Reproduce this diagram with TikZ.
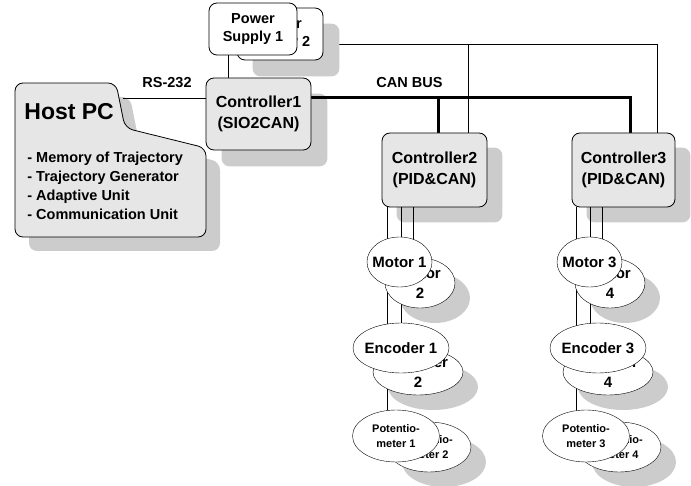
\documentclass[tikz,border=0pt]{standalone}
\usepackage{fontspec}
\setmainfont{Liberation Sans}
\usetikzlibrary{shapes.geometric}
\definecolor{boxfill}{RGB}{230,230,230}
\definecolor{shadowc}{RGB}{204,204,204}
\pgfdeclarelayer{pslayer}
\pgfdeclarelayer{shadowlayer}
\pgfdeclarelayer{linelayer}
\pgfsetlayers{pslayer,shadowlayer,linelayer,main}
\begin{document}
\begin{tikzpicture}[x=1pt,y=-1pt, line width=0.8pt,
  ctrl/.style={draw, fill=boxfill, rounded corners=8pt, align=center, inner sep=0pt, font=\bfseries\fontsize{16}{21}\selectfont},
  psbox/.style={draw, fill=white, rounded corners=8pt, align=center, inner sep=0pt, font=\bfseries\fontsize{14.5}{18}\selectfont},
  ell/.style={draw, fill=white, ellipse, inner sep=0pt},
  elltxt/.style={font=\bfseries\fontsize{15}{20}\selectfont, align=center, inner sep=0pt},
  pottxt/.style={font=\bfseries\fontsize{11}{15}\selectfont, align=center, inner sep=0pt},
  lbl/.style={font=\bfseries\fontsize{14.5}{17}\selectfont, inner sep=0pt},
  bus/.style={line width=3pt},
  shadowfill/.style={fill=shadowc, draw=none}]

\useasboundingbox (0,0) rectangle (691,486);

% Power supplies
\node[psbox, minimum width=86pt, minimum height=52pt] (ps2) at (280,34) {Power\\Supply 2};
\node[psbox, minimum width=88pt, minimum height=52pt] (ps1) at (253,29) {Power\\Supply 1};

% Host PC
\draw[fill=boxfill, rounded corners=8pt] (60,83) -- (116,83) -- (125,128) -- (206,148) -- (206,237) -- (15,237) -- (15,83) -- cycle;
\node[font=\bfseries\fontsize{23}{27}\selectfont, anchor=west, inner sep=0pt] (hosttitle) at (24,111.5) {Host PC};
\node[font=\bfseries\fontsize{14.5}{19}\selectfont, anchor=north west, align=left, inner sep=0pt] (hostlist) at (27,151.5)
  {- Memory of Trajectory\\- Trajectory Generator\\- Adaptive Unit\\- Communication Unit};
\coordinate (hostport) at (123,98);

% Controllers
\node[ctrl, minimum width=105pt, minimum height=72pt] (c1) at (258.5,114) {Controller1\\(SIO2CAN)};
\node[ctrl, minimum width=105pt, minimum height=74pt] (c2) at (434.5,170) {Controller2\\(PID\&CAN)};
\node[ctrl, minimum width=103pt, minimum height=74pt] (c3) at (623.5,170) {Controller3\\(PID\&CAN)};

% Labels
\node[lbl] (rs) at (167,83) {RS-232};
\node[lbl] (can) at (409.5,83) {CAN BUS};

% Shadows
\begin{pgfonlayer}{shadowlayer}
  \fill[shadowc, rounded corners=8pt] ([shift={(16,16)}]ps2.south west) rectangle ([shift={(16,16)}]ps2.north east);
  \fill[shadowc, rounded corners=8pt] ([shift={(16,16)}]c1.south west) rectangle ([shift={(16,16)}]c1.north east);
  \fill[shadowc, rounded corners=8pt] ([shift={(15,15)}]c2.south west) rectangle ([shift={(15,15)}]c2.north east);
  \fill[shadowc, rounded corners=8pt] ([shift={(15,15)}]c3.south west) rectangle ([shift={(15,15)}]c3.north east);
  \fill[shadowc, rounded corners=8pt, shift={(14,14)}] (60,83) -- (116,83) -- (125,128) -- (206,148) -- (206,237) -- (15,237) -- (15,83) -- cycle;
\end{pgfonlayer}

% Power line
\coordinate (psbus) at ([yshift=-10pt]ps2.east);
\begin{pgfonlayer}{pslayer}
  \draw (psbus) -| ([xshift=33.5pt]c3.north);
  \draw ([xshift=33.5pt]c2.north) -- ([xshift=33.5pt]c2.north |- psbus);
\end{pgfonlayer}

% Connectors
\coordinate (canstart) at ([yshift=16pt]c1.east);
\begin{pgfonlayer}{linelayer}
  \draw ([xshift=-25pt]ps1.south) -- ([xshift=-25pt]ps1.south |- c1.north);
  \draw (hostport) -- (hostport -| c1.west);
  \draw[bus] (canstart) -| ([xshift=6.5pt]c3.north);
  \draw[bus] ([xshift=3.5pt]c2.north) -- ([xshift=3.5pt]c2.north |- canstart);
\end{pgfonlayer}

% Device columns
\foreach \dx/\a/\b/\c/\ex in {0/1/2/2/0, 190/3/4/3/7} {
  % motors
  \node[ell, minimum width=70pt, minimum height=50pt] (mot\b) at (420+\dx,283) {};
  \node[elltxt] (motl\b) at (mot\b) {Motor\\\b};
  \node[ell, minimum width=65pt, minimum height=50pt] (mot\a) at (399.5+\dx,262) {};
  \node[elltxt] (motl\a) at (mot\a) {Motor \a};
  % encoders
  \node[ell, minimum width=90pt, minimum height=46pt] (enc\b) at (418+\dx,372) {};
  \node[elltxt] (encl\b) at (enc\b) {Encoder\\\b};
  \node[ell, minimum width=96pt, minimum height=50pt] (enc\a) at (401+\dx+\ex,348) {};
  \node[elltxt] (encl\a) at (enc\a) {Encoder \a};
  % potentiometers
  \node[ell, minimum width=84pt, minimum height=50pt] (pot\b) at (429+\dx,447) {};
  \node[pottxt] (potl\b) at (pot\b) {Potentio-\\meter \b};
  \node[ell, minimum width=87pt, minimum height=52pt] (pot\a) at (396+\dx,436) {};
  \node[pottxt] (potl\a) at (pot\a) {Potentio-\\meter \a};
  \begin{pgfonlayer}{shadowlayer}
    \fill[shadowc] ([shift={(15,15)}]mot\b.center) ellipse [x radius=35pt, y radius=25pt];
    \fill[shadowc] ([shift={(15,15)}]enc\b.center) ellipse [x radius=45pt, y radius=23pt];
    \fill[shadowc] ([shift={(15,15)}]pot\b.center) ellipse [x radius=42pt, y radius=25pt];
  \end{pgfonlayer}
  \begin{pgfonlayer}{linelayer}
    \draw ([xshift=-47.5pt]c\c.south) -- ([xshift=-47.5pt]c\c.south |- pot\a.center);
    \draw ([xshift=-33.5pt]c\c.south) -- ([xshift=-33.5pt]c\c.south |- enc\a.center);
    \draw ([xshift=-21.5pt]c\c.south) -- ([xshift=-21.5pt]c\c.south |- mot\a.center);
  \end{pgfonlayer}
}
\end{tikzpicture}
\end{document}
